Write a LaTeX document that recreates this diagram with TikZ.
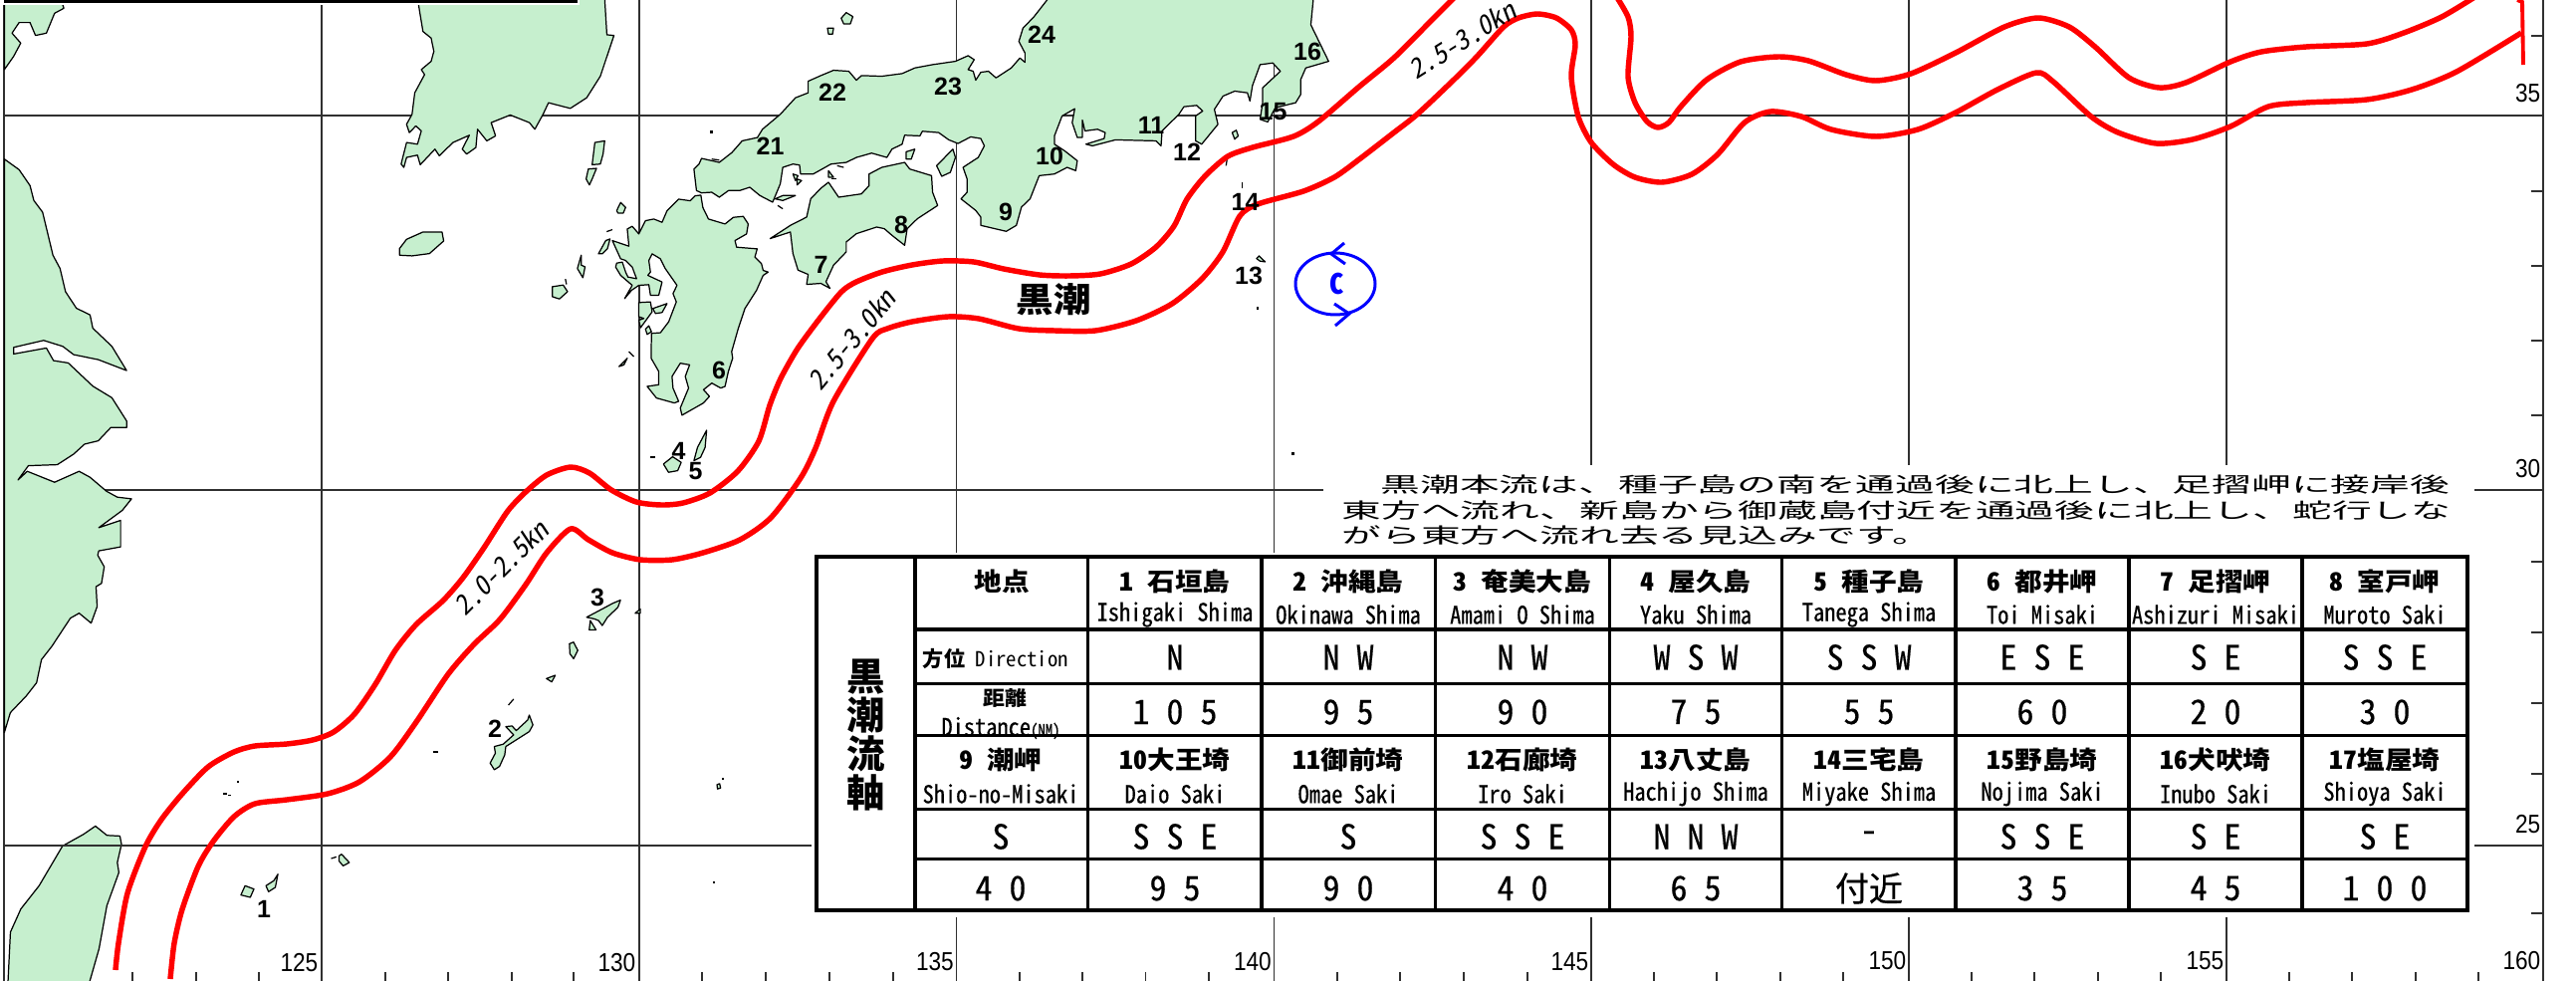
\documentclass[tikz,border=0pt]{standalone}
\usepackage{fontspec}
\usepackage{graphicx}
\newfontfamily\hw[RawFeature=+hwid]{Noto Sans CJK JP}
\newfontfamily\hwm[RawFeature=+hwid,FakeBold=0.5]{Noto Sans CJK JP}
\newfontfamily\hwi[RawFeature=+hwid,FakeSlant=0.2]{Noto Sans CJK JP}
\newfontfamily\lib{Liberation Sans}
\definecolor{landgreen}{HTML}{C6EFCE}
\definecolor{gridc}{HTML}{303030}
\newcommand\jp[1]{\scalebox{1.15}[1.05]{\hw\bfseries\fontsize{6.83}{8}\selectfont #1}}
\newcommand\en[1]{\scalebox{1}[1.1]{\hwm\fontsize{6.37}{8}\selectfont #1}}
\newcommand\val[1]{\hwm\fontsize{9.67}{11}\selectfont #1}
\newcommand\num[1]{\lib\bfseries\fontsize{7.1}{8}\selectfont #1}
\newcommand\ax[1]{\scalebox{.87}[1]{\lib\fontsize{7.4}{9}\selectfont #1}}
\newcommand\spd[1]{\hwi\fontsize{7.6}{9}\selectfont #1}
\newcommand\para[1]{\scalebox{1.9}[1]{\hw\fontsize{5.95}{7}\selectfont #1}}
\tikzset{
 land/.style={fill=landgreen,draw=black,line width=0.35pt,line join=round},
 gridl/.style={draw=gridc,line width=0.4pt},
 gridh/.style={draw=gridc,line width=0.6pt},
 tickl/.style={draw=gridc,line width=0.4pt},
 cur/.style={draw=red,line width=1.55pt,line join=round},
 tab/.style={draw=black,line width=1pt},
 cell/.style={inner sep=0pt,anchor=center},
 zi/.style={x=0.005485cm,y=-0.003333cm},
 zii/.style={x=0.005102cm,y=-0.003333cm},
 ziii/.style={x=0.00523cm,y=-0.003333cm},
 ziv/.style={x=0.003333cm,y=-0.003333cm}
}
\begin{document}
\begin{tikzpicture}[x=0.01cm,y=-0.01cm]
\useasboundingbox (0,0) rectangle (2587,985);
\clip (0,0) rectangle (2587,985);
\fill[white] (0,0) rectangle (2587,985);
% --- graticule
\foreach \gx in {4,323,642,2553.8} \draw[gridl] (\gx,0) -- (\gx,985);
\foreach \gx in {960.5,1279.5} {\draw[gridl] (\gx,0) -- (\gx,555); \draw[gridl] (\gx,921) -- (\gx,985);}
\foreach \gx in {1598,1917,2236} {\draw[gridl] (\gx,0) -- (\gx,467); \draw[gridl] (\gx,921) -- (\gx,985);}
\draw[gridh] (4,115.7) -- (2554,115.7);
\draw[gridh] (4,492) -- (1329,492);
\draw[gridh] (2485,492) -- (2554,492);
\draw[gridh] (4,849) -- (815,849);
\draw[gridh] (2485,849) -- (2554,849);
\foreach \ty in {36,192,267,342,417,564,635,706,777,917} \draw[tickl] (2542,\ty) -- (2554,\ty);
\foreach \tx in {133,197,260,387,450,514,576,705,769,833,897} \draw[tickl] (\tx,976) -- (\tx,985);
\foreach \tx in {1024,1087,1150.5,1214,1343,1406,1470,1534,1661,1724,1788,1851,1980,2043,2107,2170,2299,2362,2426,2489} \draw[tickl] (\tx,976) -- (\tx,985);
% --- land (coordinates of zoom views)
\begin{scope}[zi]
% China north
\draw[land] (8,-5) -- (115,-5) -- (115,15) -- (117,25) -- (100,40) -- (85,100) -- (65,107) -- (55,68) -- (35,68) -- (22,100) -- (38,130) -- (25,170) -- (8,210) -- cycle;
% China
\draw[land] (8,480) -- (35,512) -- (55,560) -- (62,605) -- (78,640) -- (97,770) -- (110,810) -- (120,880) -- (140,930) -- (165,950) -- (170,990) -- (205,1045) -- (232,1118) -- (180,1085) -- (135,1070) -- (115,1045) -- (80,1027) -- (25,1048) -- (25,1068) -- (85,1050) -- (98,1088) -- (125,1095) -- (170,1165) -- (205,1200) -- (232,1270) -- (232,1290) -- (203,1290) -- (180,1330) -- (155,1340) -- (135,1370) -- (105,1402) -- (52,1405) -- (33,1448) -- (50,1422) -- (100,1455) -- (145,1422) -- (165,1440) -- (195,1482) -- (215,1500) -- (241,1505) -- (224,1540) -- (181,1592) -- (221,1570) -- (221,1650) -- (181,1662) -- (179,1675) -- (191,1710) -- (186,1760) -- (176,1770) -- (178,1830) -- (167,1880) -- (145,1850) -- (129,1865) -- (95,1950) -- (76,1990) -- (67,2060) -- (48,2100) -- (19,2150) -- (8,2210) -- cycle;
% Korea
\draw[land] (765,-5) -- (775,95) -- (790,115) -- (795,155) -- (790,185) -- (772,210) -- (778,225) -- (760,280) -- (755,345) -- (745,375) -- (750,400) -- (762,380) -- (772,395) -- (765,435) -- (745,430) -- (735,495) -- (740,505) -- (745,475) -- (765,468) -- (770,497) -- (797,450) -- (805,470) -- (830,430) -- (860,408) -- (847,450) -- (855,465) -- (872,445) -- (875,390) -- (892,425) -- (908,410) -- (900,370) -- (935,347) -- (970,370) -- (980,390) -- (995,345) -- (1005,310) -- (1045,327) -- (1075,295) -- (1100,230) -- (1125,107) -- (1112,105) -- (1108,-5) -- cycle;
% Tsushima, Jeju, Goto
\draw[land] (1090,430) -- (1108,425) -- (1105,465) -- (1100,495) -- (1085,497) -- cycle;
\draw[land] (1078,510) -- (1093,508) -- (1085,540) -- (1080,558) -- (1074,540) -- cycle;
\draw[land] (732,770) -- (732,750) -- (745,722) -- (775,700) -- (810,700) -- (813,727) -- (787,765) -- (755,772) -- cycle;
\draw[land] (1065,770) -- (1065,800) -- (1072,805) -- (1068,838) -- (1058,810) -- cycle;
\draw[land] (1012,865) -- (1032,860) -- (1040,880) -- (1025,902) -- (1012,895) -- cycle;
\draw[land] (1036,842) -- (1038,858);
\end{scope}
\begin{scope}[shift={(600,0)},zii]
% Honshu
\draw[land] (888,-5) -- (860,50) -- (838,85) -- (830,125) -- (842,160) -- (842,188) -- (832,175) -- (815,205) -- (805,215) -- (795,225) -- (785,235) -- (770,215) -- (755,218) -- (745,242) -- (740,215) -- (730,210) -- (742,180) -- (730,168) -- (705,185) -- (660,195) -- (625,205) -- (600,222) -- (560,230) -- (520,228) -- (510,242) -- (495,215) -- (465,212) -- (440,228) -- (415,245) -- (415,280) -- (390,295) -- (360,345) -- (325,390) -- (315,415) -- (285,425) -- (265,460) -- (240,490) -- (205,478) -- (200,495) -- (190,510) -- (195,575) -- (205,582) -- (225,580) -- (240,595) -- (258,575) -- (280,575) -- (300,565) -- (320,590) -- (345,610) -- (360,555) -- (365,505) -- (385,495) -- (398,498) -- (400,525) -- (425,525) -- (460,495) -- (490,490) -- (510,475) -- (540,462) -- (570,475) -- (580,450) -- (600,435) -- (605,408) -- (635,410) -- (640,396) -- (672,400) -- (692,422) -- (710,433) -- (735,413) -- (755,418) -- (762,440) -- (750,475) -- (720,505) -- (728,540) -- (728,580) -- (716,600) -- (745,635) -- (755,655) -- (755,680) -- (805,698) -- (825,680) -- (835,625) -- (852,600) -- (870,530) -- (900,525) -- (925,505) -- (942,515) -- (945,485) -- (920,455) -- (900,435) -- (900,410) -- (915,350) -- (940,328) -- (935,370) -- (945,415) -- (955,415) -- (955,362) -- (960,395) -- (985,390) -- (1000,400) -- (998,418) -- (962,435) -- (975,440) -- (1020,422) -- (1100,425) -- (1110,440) -- (1112,395) -- (1145,345) -- (1155,322) -- (1180,318) -- (1192,335) -- (1178,350) -- (1178,425) -- (1190,435) -- (1222,375) -- (1215,330) -- (1232,290) -- (1255,275) -- (1280,280) -- (1285,305) -- (1290,258) -- (1305,195) -- (1330,190) -- (1345,215) -- (1310,265) -- (1310,310) -- (1305,360) -- (1320,368) -- (1335,325) -- (1375,310) -- (1385,285) -- (1385,240) -- (1395,205) -- (1440,185) -- (1405,75) -- (1410,-5) -- cycle;
% Shikoku
\draw[land] (340,720) -- (380,700) -- (385,765) -- (395,815) -- (415,828) -- (412,858) -- (440,855) -- (458,870) -- (450,850) -- (465,800) -- (490,760) -- (490,730) -- (510,705) -- (550,685) -- (565,690) -- (580,710) -- (605,740) -- (610,690) -- (630,660) -- (670,620) -- (660,580) -- (658,530) -- (615,510) -- (605,490) -- (560,505) -- (535,525) -- (535,560) -- (520,585) -- (475,595) -- (455,550) -- (440,568) -- (420,600) -- (412,655) -- (380,680) -- cycle;
% small islands
\draw[land] (480,55) -- (490,38) -- (503,50) -- (498,72) -- (485,72) -- cycle;
\draw[land] (453,85) -- (465,85) -- (463,103) -- (455,103) -- cycle;
\draw[land] (608,458) -- (625,450) -- (618,480) -- (608,480) -- cycle;
\draw[land] (668,500) -- (700,450) -- (705,475) -- (695,520) -- (678,532) -- cycle;
\draw[land] (385,525) -- (395,530) -- (390,545) -- cycle;
\draw[land] (393,540) -- (402,545) -- (393,558) -- cycle;
\draw[land] (350,600) -- (365,590) -- (390,590) -- (365,605) -- cycle;
\draw[land] (130,1400) -- (148,1378) -- (165,1395) -- (158,1420) -- (140,1425) -- cycle;
\draw[land] (190,1390) -- (197,1350) -- (215,1298) -- (212,1350) -- (203,1380) -- cycle;
\draw[land] (1250,400) -- (1258,393) -- (1262,410) -- (1255,420) -- cycle;
\draw[land] (1298,780) -- (1303,772) -- (1315,790) -- (1305,788) -- cycle;
\draw[land] (455,515) -- (465,535) -- (455,535) -- cycle;
\draw[land] (472,500) -- (485,505);
\draw[land] (460,540) -- (470,540);
\draw[land] (355,620) -- (365,630);
\draw[land] (225,480) -- (240,483);
\draw[land] (1270,550) -- (1270,568);
\draw[land] (1240,480) -- (1238,500);
\fill (222,394) rectangle (227,404);
\fill (103,1375) rectangle (114,1381);
\fill (1299,925) rectangle (1303,934);
\fill (1367,1365) rectangle (1372,1373);
\end{scope}
\begin{scope}[shift={(600,170)},ziv]
% Kyushu
\draw[land] (312,78) -- (318,115) -- (335,150) -- (385,165) -- (410,145) -- (440,142) -- (455,165) -- (450,195) -- (415,215) -- (420,235) -- (482,240) -- (475,265) -- (495,285) -- (500,305) -- (515,310) -- (500,320) -- (480,365) -- (445,420) -- (425,480) -- (405,550) -- (408,570) -- (395,610) -- (385,655) -- (372,660) -- (345,645) -- (320,665) -- (338,685) -- (320,705) -- (255,742) -- (250,720) -- (275,660) -- (265,625) -- (278,590) -- (250,585) -- (225,625) -- (228,660) -- (245,700) -- (232,705) -- (178,690) -- (150,655) -- (185,650) -- (185,610) -- (162,570) -- (163,495) -- (190,493) -- (215,460) -- (238,400) -- (228,375) -- (240,350) -- (205,300) -- (190,270) -- (165,255) -- (155,275) -- (160,310) -- (152,320) -- (195,340) -- (185,380) -- (160,380) -- (155,348) -- (125,350) -- (103,365) -- (82,390) -- (105,350) -- (70,320) -- (55,295) -- (58,283) -- (75,280) -- (85,310) -- (92,325) -- (118,330) -- (105,295) -- (85,275) -- (70,270) -- (45,215) -- (95,232) -- (90,180) -- (105,172) -- (125,195) -- (145,155) -- (170,150) -- (195,160) -- (210,125) -- (245,90) -- (280,95) -- (295,80) -- cycle;
\draw[land] (125,402) -- (160,400) -- (165,430) -- (130,478) -- (125,455) -- (140,450) -- (125,445) -- cycle;
\draw[land] (167,420) -- (210,405) -- (195,432) -- (175,435) -- cycle;
\draw[land] (145,482) -- (155,472) -- (163,490) -- (150,498) -- cycle;
\draw[land] (58,125) -- (70,100) -- (85,115) -- (78,132) -- (62,132) -- cycle;
\draw[land] (3,255) -- (25,215) -- (38,210) -- (30,240) -- (15,255) -- cycle;
\draw[land] (28,188) -- (45,182);
\draw[land] (65,595) -- (90,570) -- (80,590) -- cycle;
\draw[land] (95,550) -- (110,565);
\end{scope}
\begin{scope}[shift={(0,480)},ziii]
% Taiwan
\draw[land] (183,1050) -- (205,1078) -- (230,1080) -- (233,1105) -- (225,1160) -- (228,1190) -- (205,1290) -- (190,1420) -- (170,1530) -- (15,1530) -- (20,1370) -- (40,1300) -- (75,1230) -- (120,1110) -- (160,1075) -- cycle;
% Ryukyu
\draw[land] (940,860) -- (950,830) -- (948,810) -- (965,803) -- (985,775) -- (970,750) -- (982,748) -- (990,762) -- (1012,730) -- (1015,715) -- (1022,745) -- (1015,765) -- (995,785) -- (970,810) -- (968,835) -- (958,870) -- (948,880) -- cycle;
\draw[land] (1125,420) -- (1155,395) -- (1175,378) -- (1190,368) -- (1185,390) -- (1165,420) -- (1155,445) -- (1148,430) -- (1140,425) -- cycle;
\draw[land] (1132,430) -- (1143,458) -- (1130,458) -- cycle;
\draw[land] (1092,500) -- (1100,495) -- (1108,520) -- (1100,545) -- (1093,530) -- cycle;
\draw[land] (1048,605) -- (1065,595) -- (1058,615) -- cycle;
\draw[land] (975,685) -- (985,667);
\draw[land] (1218,408) -- (1228,395) -- (1228,408) -- cycle;
\draw[land] (462,1258) -- (470,1230) -- (487,1240) -- (480,1265) -- cycle;
\draw[land] (510,1230) -- (525,1215) -- (533,1195) -- (528,1235) -- (515,1248) -- cycle;
\draw[land] (650,1140) -- (655,1135) -- (670,1160) -- (658,1170) -- (650,1155) -- cycle;
\draw[land] (635,1148) -- (645,1143);
\draw[land] (1375,925) -- (1380,922) -- (1382,935) -- (1376,938) -- cycle;
\fill (830,823) rectangle (840,828);
\fill (455,912) rectangle (459,918);
\fill (427,950) rectangle (435,957);
\fill (438,955) rectangle (443,960);
\fill (1368,1217) rectangle (1372,1223);
\fill (1384,903) rectangle (1388,909);
\end{scope}
\draw[gridh] (60,849) -- (125,849);
% --- top strip
\fill[white] (0,0) rectangle (582,5);
\fill[black] (4,0) rectangle (580,3);
% --- Kuroshio axis
\draw[cur] plot[smooth,tension=0.45] coordinates {(116,974)(119,947)(128,897)(146,850)(162,823)(183,797)(209,770)(235,755)(256,749)(288,747)(314,743)(335,735)(356,717)(377,687)(397,653)(418,627)(445,603)(465,580)(486,550)(510,513)(529,493)(549,477)(573,469)(592,475)(614,492)(639,504)(664,507)(686,505)(713,495)(741,473)(762,443)(773,407)(784,380)(801,350)(823,320)(845,293)(860,283)(886,273)(916,266)(947,262)(978,263)(1008,270)(1044,276)(1074,277)(1105,275)(1136,265)(1161,248)(1179,227)(1192,200)(1210,177)(1233,157)(1258,148)(1299,137)(1324,122)(1365,87)(1400,58)(1438,20)(1462,-4)};
\draw[cur] plot[smooth,tension=0.45] coordinates {(171,983)(175,947)(183,913)(199,870)(214,845)(235,820)(256,807)(288,803)(329,797)(361,785)(392,760)(418,725)(450,677)(476,647)(502,622)(528,587)(549,555)(573,531)(591,542)(615,555)(643,562)(675,562)(706,555)(743,542)(774,520)(804,480)(819,450)(837,403)(876,340)(891,330)(916,323)(952,318)(983,320)(1023,330)(1059,332)(1100,332)(1141,322)(1177,305)(1207,280)(1228,253)(1245,217)(1263,205)(1309,192)(1340,178)(1365,160)(1400,133)(1423,115)(1457,83)(1483,57)(1510,27)(1525,18)(1544,14)(1563,18)(1578,30)(1582,45)(1578,77)(1585,117)(1598,143)(1620,165)(1642,178)(1669,183)(1699,175)(1725,155)(1752,123)(1778,112)(1809,117)(1839,130)(1884,137)(1926,130)(1964,113)(2006,90)(2045,73)(2062,82)(2100,117)(2127,133)(2165,144)(2202,140)(2240,127)(2278,107)(2316,103)(2377,100)(2422,90)(2467,72)(2532,33)};
\draw[cur] plot[smooth,tension=0.45] coordinates {(1623,-4)(1635,17)(1638,37)(1635,77)(1642,103)(1654,122)(1665,128)(1676,123)(1688,107)(1714,80)(1748,62)(1786,57)(1816,61)(1854,75)(1884,81)(1919,74)(1964,53)(2013,27)(2047,18)(2078,27)(2104,47)(2138,78)(2168,88)(2195,83)(2240,62)(2271,52)(2316,47)(2377,44)(2414,33)(2452,17)(2487,-4)};
\draw[draw=red,line width=1.1pt] (2528,0) -- (2533,2) -- (2534,65);
% --- eddy
\draw[blue,line width=0.85pt] (1341,285) ellipse [x radius=40,y radius=31];
\draw[blue,line width=0.85pt] (1350,244) -- (1337,255) -- (1351,265);
\draw[blue,line width=0.85pt] (1340,305) -- (1355,315) -- (1341,327);
\node[cell,text=blue] (eddyC) at (1343,285) {\hw\bfseries\fontsize{8}{9}\selectfont C};
% --- map labels
\node[cell] (kuro) at (1058,301) {\scalebox{1.1}[1]{\hw\bfseries\fontsize{9.7}{11}\selectfont 黒潮}};
\node[cell,rotate=50] (spdA) at (855,341) {\spd{2.5-3.0kn}};
\node[cell,rotate=32] (spdB) at (1468,40) {\spd{2.5-3.0kn}};
\node[cell,rotate=45] (spdC) at (503,570) {\spd{2.0-2.5kn}};
\foreach \n/\px/\py in {24/1046/35,16/1313/52,23/952/87,22/836/93,21/773.5/147,15/1278.6/112,11/1156/126,12/1192/153,10/1054/157,14/1250.5/203,9/1010/213,8/905/226,7/824.5/266,13/1254/277,6/722/372,4/681.6/453,5/698.5/473,3/600/600,2/497/732,1/265/913}
  \node[cell] (pt\n) at (\px,\py) {\num{\n}};
\node[cell,anchor=east] (lona) at (320,967) {\ax{125}};
\node[cell,anchor=east] (lonb) at (639,967) {\ax{130}};
\node[cell,anchor=east] (lonc) at (958.5,966) {\ax{135}};
\node[cell,anchor=east] (lond) at (1277.5,966) {\ax{140}};
\node[cell,anchor=east] (lone) at (1596,966) {\ax{145}};
\node[cell,anchor=east] (lonf) at (1915,965) {\ax{150}};
\node[cell,anchor=east] (long) at (2234,965) {\ax{155}};
\node[cell,anchor=east] (lonh) at (2552,965) {\ax{160}};
\node[cell,anchor=east] (lata) at (2552,94) {\ax{35}};
\node[cell,anchor=east] (latb) at (2552,471) {\ax{30}};
\node[cell,anchor=east] (latc) at (2552,828) {\ax{25}};
% --- forecast text
\node[cell,anchor=west] (parA) at (1386,487) {\para{黒潮本流は、種子島の南を通過後に北上し、足摺岬に接岸後}};
\node[cell,anchor=west] (parB) at (1347,513) {\para{東方へ流れ、新島から御蔵島付近を通過後に北上し、蛇行しな}};
\node[cell,anchor=west] (parC) at (1347,538) {\para{がら東方へ流れ去る見込みです。}};
% --- table
\foreach \tx in {820,919,1092.4,1267,1441.5,1616.6,1789.4,1964,2138,2312,2478} \draw[tab] (\tx,559) -- (\tx,914);
\foreach \ty in {559,914} \draw[tab] (818.2,\ty) -- (2479.8,\ty);
\foreach \ty in {632,686.7,738.7,812.7,862.7} \draw[tab] (919,\ty) -- (2478,\ty);
\node[cell,align=center,font={\hw\bfseries\fontsize{10.9}{11}\selectfont}] (side) at (870,738) {黒\\潮\\流\\軸};
\node[cell] (hdA) at (1006,584) {\jp{地点}};
\node[cell] (hdB) at (1000,662) {\hw\bfseries\fontsize{6}{7}\selectfont 方位 \hw\mdseries\fontsize{5.9}{7}\selectfont Direction};
\node[cell] (hdC) at (1009,701) {\jp{\fontsize{5.4}{7}\selectfont 距離}};
\node[cell] (hdD) at (1005,731) {\en{Distance\fontsize{4.2}{5}\selectfont (NM)}};
\foreach \i/\cx/\a/\b/\c/\d in {
 1/1180/1 石垣島/Ishigaki Shima/N/1 0 5,
 2/1354/2 沖縄島/Okinawa Shima/N W/9 5,
 3/1529/3 奄美大島/Amami O Shima/N W/9 0,
 4/1703/4 屋久島/Yaku Shima/W S W/7 5,
 5/1877/5 種子島/Tanega Shima/S S W/5 5,
 6/2051/6 都井岬/Toi Misaki/E S E/6 0,
 7/2225/7 足摺岬/Ashizuri Misaki/S E/2 0,
 8/2395/8 室戸岬/Muroto Saki/S S E/3 0}{
 \node[cell] (ja\i) at (\cx,584) {\jp{\a}};
 \node[cell] (en\i) at (\cx,617) {\en{\b}};
 \node[cell] (di\i) at (\cx,660) {\val{\c}};
 \node[cell] (km\i) at (\cx,715) {\val{\d}};
}
\foreach \i/\cx/\a/\b/\c/\d in {
 9/1005/9 潮岬/Shio-no-Misaki/S/4 0,
 10/1180/10大王埼/Daio Saki/S S E/9 5,
 11/1354/11御前埼/Omae Saki/S/9 0,
 12/1529/12石廊埼/Iro Saki/S S E/4 0,
 13/1703/13八丈島/Hachijo Shima/N N W/6 5,
 14/1877/14三宅島/Miyake Shima/-/付近,
 15/2051/15野島埼/Nojima Saki/S S E/3 5,
 16/2225/16犬吠埼/Inubo Saki/S E/4 5,
 17/2395/17塩屋埼/Shioya Saki/S E/1 0 0}{
 \node[cell] (ja\i) at (\cx,763) {\jp{\a}};
 \node[cell] (en\i) at (\cx,797) {\en{\b}};
 \node[cell] (di\i) at (\cx,840) {\val{\c}};
 \node[cell] (km\i) at (\cx,892) {\val{\d}};
}
\end{tikzpicture}
\end{document}
